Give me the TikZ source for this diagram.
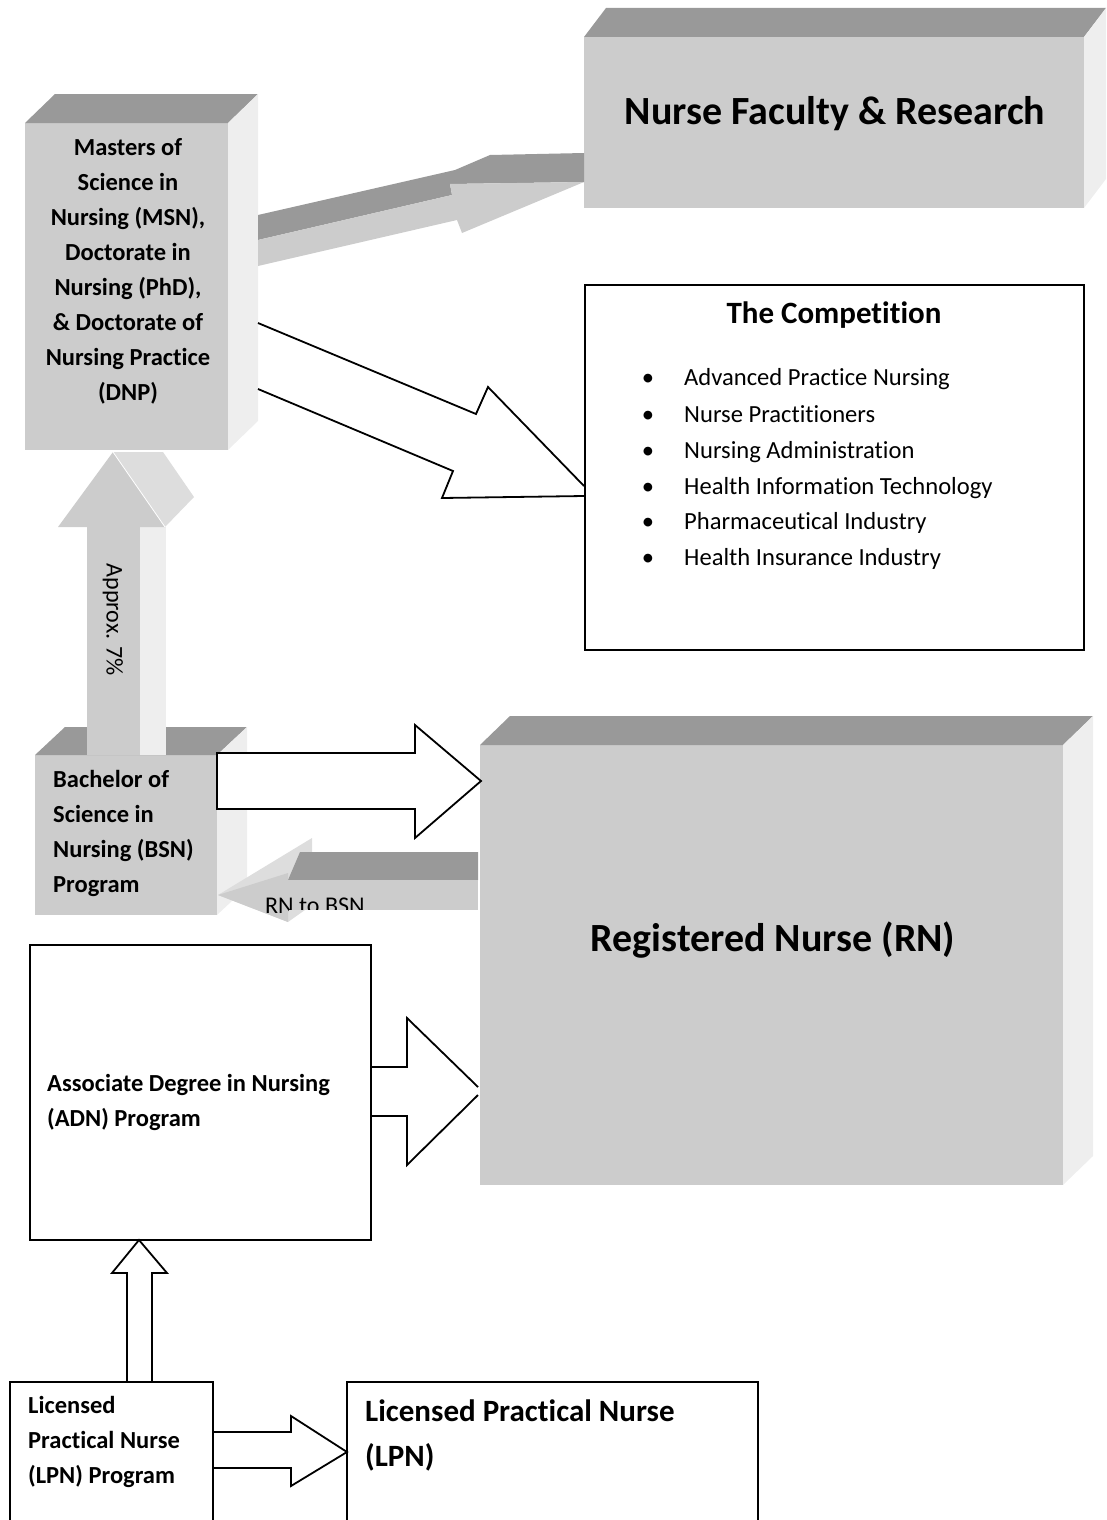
\documentclass[tikz,border=0pt]{standalone}
\usepackage{fontspec}
\setmainfont[Ligatures={NoCommon}]{Carlito}
\usetikzlibrary{calc}
\definecolor{frontc}{HTML}{CCCCCC}
\definecolor{topc}{HTML}{999999}
\definecolor{sidec}{HTML}{EEEEEE}
\definecolor{midc}{HTML}{DDDDDD}
\tikzset{
  cubefront/.style={fill=frontc, inner sep=0pt, outer sep=0pt},
  plainbox/.style={draw=black, line width=1.8pt, fill=white, inner sep=0pt, outer sep=0pt},
  hollow/.style={draw=black, line width=1.8pt, line join=miter},
  lblb/.style={font=\fontsize{24.5}{35}\selectfont\bfseries, inner sep=0pt, align=left},
  lblr/.style={font=\fontsize{24}{36}\selectfont, inner sep=0pt},
  itemr/.style={font=\fontsize{24.6}{36}\selectfont, inner sep=0pt},
  bigt/.style={font=\fontsize{40}{48}\selectfont\bfseries, inner sep=0pt},
}
\newcommand{\boxfaces}[3]{%
  \fill[topc] (#1.north west) -- ++(#2,#3) -- ($(#1.north east)+(#2,#3)$) -- (#1.north east) -- cycle;
  \fill[sidec] (#1.north east) -- ++(#2,#3) -- ($(#1.south east)+(#2,#3)$) -- (#1.south east) -- cycle;
}
\begin{document}
\begin{tikzpicture}[x=1pt,y=-1pt]
\useasboundingbox (0,0) rectangle (1106,1520);
\clip (0,0) rectangle (1106,1520);

% ---------- Nurse Faculty & Research
\node[cubefront, minimum width=500pt, minimum height=171pt] (fac) at (834,122.5) {};
\boxfaces{fac}{22}{-29}
\node[bigt] (factext) at (835,114) {Nurse Faculty \& Research};

% ---------- MSN
\node[cubefront, minimum width=203pt, minimum height=327pt] (msn) at (126.5,286.5) {};
\boxfaces{msn}{30}{-29}
\node[lblb, align=center] (msntext) at (128,271) {Masters of\\Science in\\Nursing (MSN),\\Doctorate in\\Nursing (PhD),\\\& Doctorate of\\Nursing Practice\\(DNP)};

% ---------- arrow MSN -> Faculty (3D)
\fill[topc] (258,215) -- (455,170) -- (490,155) -- (584,153) -- (584,182) -- (450,184) -- (452,195) -- (258,240) -- cycle;
\fill[frontc] (258,240) -- (452,195) -- (450,184) -- (584,182) -- (462,233) -- (457,220) -- (258,266) -- cycle;

% ---------- Competition
\node[plainbox, minimum width=499pt, minimum height=365pt] (comp) at (834.5,467.5) {};
\node[font=\fontsize{31}{36}\selectfont\bfseries, inner sep=0pt] (comptitle) at (834,315) {The Competition};
\foreach \y/\t [count=\i] in {377/Advanced Practice Nursing, 414/Nurse Practitioners, 450/Nursing Administration, 486/Health Information Technology, 521/Pharmaceutical Industry, 557/Health Insurance Industry}{
  \node[itemr, anchor=base] (bul\i) at (648,\y+8) {\textbullet};
  \node[itemr, anchor=base west] (item\i) at (684,\y+8) {\t};
}

% ---------- arrow MSN -> Competition (hollow)
\draw[hollow] (258,323) -- (476,414) -- (488,387) -- (584,486);
\draw[hollow] (584,496) -- (442,498) -- (453,471) -- (258,389);

% ---------- BSN
\node[cubefront, minimum width=182pt, minimum height=160pt] (bsn) at (126,835) {};
\boxfaces{bsn}{30}{-28}
\node[lblb, anchor=west] (bsntext) at (53,833.5) {Bachelor of\\Science in\\Nursing (BSN)\\Program};

% ---------- Approx 7% arrow (3D, up)
\fill[sidec] (140,527) -- (166,527) -- (166,755) -- (140,755) -- cycle;
\fill[frontc] (87,527) -- (140,527) -- (140,755) -- (87,755) -- cycle;
\fill[midc] (113,452) -- (163,452) -- (194,497) -- (165,527) -- cycle;
\fill[frontc] (113,452) -- (165,527) -- (58,527) -- cycle;
\draw[white, line width=0.8pt] (113,452) -- (165,527);
\node[lblr, rotate=-90] (approx) at (113,620) {Approx. 7\%};

% ---------- RN
\node[cubefront, minimum width=583pt, minimum height=440pt] (rn) at (771.5,965) {};
\boxfaces{rn}{30}{-29}
\node[bigt] (rntext) at (773,940) {Registered Nurse (RN)};

% ---------- arrow BSN -> RN (hollow)
\draw[hollow, fill=white] (bsn.east |- 0,753) -- (415,753) -- (415,725) -- (481,781) -- (415,838) -- (415,809) -- (bsn.east |- 0,809) -- cycle;

% ---------- arrow RN -> BSN (3D, left)
\fill[midc] (218,895) -- (312,838) -- (312,905) -- (288,922) -- cycle;
\fill[topc] (288,880) -- (300,852) -- (478,852) -- (478,880) -- cycle;
\fill[frontc] (218,895) -- (288,873) -- (288,922) -- cycle;
\fill[frontc] (287,880) -- (478,880) -- (478,910) -- (287,910) -- cycle;
\begin{scope}
  \clip (218,895) -- (288,873) -- (288,880) -- (478,880) -- (478,909) -- (288,909) -- (288,922) -- cycle;
  \node[lblr, anchor=base west] (rnbsn) at (265,913) {RN to BSN};
\end{scope}

% ---------- ADN
\node[plainbox, minimum width=341pt, minimum height=295pt] (adn) at (200.5,1092.5) {};
\node[lblb, anchor=west] (adntext) at (47,1102.5) {Associate Degree in Nursing\\(ADN) Program};

% ---------- arrow ADN -> RN (hollow)
\draw[hollow] (adn.east |- 0,1067) -- (407,1067) -- (407,1018) -- (478,1087);
\draw[hollow] (478,1095) -- (407,1165) -- (407,1116) -- (adn.east |- 0,1116);

% ---------- LPN program
\node[plainbox, minimum width=203pt, minimum height=178pt] (lpnp) at (111.5,1471) {};
\node[lblb, anchor=west] (lpnptext) at (28,1442) {Licensed\\Practical Nurse\\(LPN) Program};

% ---------- LPN
\node[plainbox, minimum width=411pt, minimum height=178pt] (lpn) at (552.5,1471) {};
\node[font=\fontsize{31}{45}\selectfont\bfseries, inner sep=0pt, align=left, anchor=west] (lpntext) at (365,1435) {Licensed Practical Nurse\\(LPN)};

% ---------- arrow LPN program -> ADN (hollow, up)
\draw[hollow] (127,1382) -- (127,1273) -- (112,1273) -- (139,1240) -- (167,1273) -- (152,1273) -- (152,1382);

% ---------- arrow LPN program -> LPN (hollow)
\draw[hollow] (lpnp.east |- 0,1432) -- (291,1432) -- (291,1416) -- (347,1452) -- (291,1486) -- (291,1468) -- (lpnp.east |- 0,1468);
\end{tikzpicture}
\end{document}
